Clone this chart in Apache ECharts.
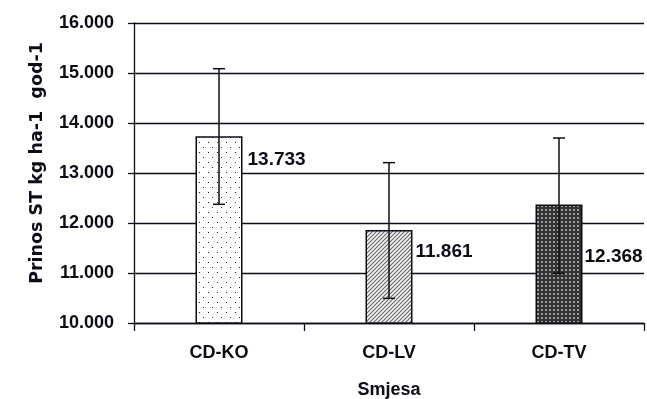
<!DOCTYPE html>
<html>
<head>
<meta charset="utf-8">
<script src="https://cdn.jsdelivr.net/npm/echarts@6/dist/echarts.min.js"></script>
<style>html,body{margin:0;padding:0;background:#fff;}#c{width:647px;height:399px;}</style>
</head>
<body>
<div id="c"></div>
<script>
// ---- data ----
var categories = ['CD-KO', 'CD-LV', 'CD-TV'];
var means = [13733, 11861, 12368];
var errUpper = [15086, 13207, 13700];
var errLower = [12374, 10493, 10993];
var yTicks = [10000, 11000, 12000, 13000, 14000, 15000, 16000];

// ---- patterns ----
function mk(w, h, draw) {
  var c = document.createElement('canvas');
  c.width = w; c.height = h;
  var g = c.getContext('2d');
  draw(g, w, h);
  return { image: c, repeat: 'repeat' };
}
var dots = mk(9, 10, function (g, w, h) {
  g.fillStyle = '#fff'; g.fillRect(0, 0, w, h);
  g.fillStyle = '#222';
  g.fillRect(1, 2, 1, 1); g.fillRect(5, 7, 1, 1);
});
var hatch = mk(4, 4, function (g, w, h) {
  g.fillStyle = '#f4f4f4'; g.fillRect(0, 0, w, h);
  g.strokeStyle = '#666'; g.lineWidth = 1.1;
  g.beginPath();
  g.moveTo(0, 4); g.lineTo(4, 0);
  g.moveTo(-1, 1); g.lineTo(1, -1);
  g.moveTo(3, 5); g.lineTo(5, 3);
  g.stroke();
});
var check = mk(4, 4, function (g, w, h) {
  g.fillStyle = '#333'; g.fillRect(0, 0, w, h);
  g.fillStyle = '#9a9a9a'; g.fillRect(1, 1, 2, 2);
});
var fills = [dots, hatch, check];
var labelPos = [[52, 23], [50, 22], [49, 52]];

var fmt = function (v) { return (v / 1000).toFixed(3); };
var ink = '#0c0c18';
var font = 'Liberation Sans, Arial, sans-serif';

var chart = echarts.init(document.getElementById('c'), null, { renderer: 'canvas' });
chart.setOption({
  animation: false,
  backgroundColor: '#fff',
  grid: { left: 134, right: 3, top: 23, bottom: 76, containLabel: false, outerBoundsMode: 'none' },
  xAxis: {
    type: 'category',
    data: categories,
    name: 'Smjesa',
    nameLocation: 'middle',
    nameGap: 58,
    nameTextStyle: { fontFamily: font, fontWeight: 'bold', fontSize: 18, color: ink },
    axisLine: { lineStyle: { color: ink, width: 1.3 } },
    axisTick: { show: true, length: 8, lineStyle: { color: ink, width: 1.3 } },
    axisLabel: { margin: 21, fontFamily: font, fontWeight: 'bold', fontSize: 18, color: ink }
  },
  yAxis: {
    type: 'value',
    min: 10000, max: 16000, interval: 1000,
    name: 'Prinos ST kg ha-1  god-1',
    nameLocation: 'middle',
    nameGap: 88,
    nameRotate: 90,
    nameTextStyle: { fontFamily: 'DejaVu Sans, sans-serif', fontWeight: 'bold', fontSize: 17.5, color: ink, padding: [0, 0, 0, 20] },
    axisLine: { show: true, lineStyle: { color: ink, width: 1.3 } },
    axisTick: { show: true, length: 6, lineStyle: { color: ink, width: 1.3 } },
    splitLine: { show: true, lineStyle: { color: ink, width: 1.3 } },
    axisLabel: { margin: 20, formatter: fmt, fontFamily: font, fontWeight: 'bold', fontSize: 18, color: ink }
  },
  series: [
    {
      type: 'bar',
      barWidth: 47,
      data: means.map(function (v, i) {
        return {
          value: v,
          itemStyle: { color: fills[i], borderColor: ink, borderWidth: 1.5 },
          label: { position: labelPos[i] }
        };
      }),
      label: {
        show: true,
        formatter: function (p) { return fmt(p.value); },
        align: 'left', verticalAlign: 'middle',
        fontFamily: font, fontWeight: 'bold', fontSize: 19, color: ink
      },
      z: 2
    },
    {
      type: 'custom',
      z: 5,
      data: categories.map(function (c, i) { return [i, errLower[i], errUpper[i]]; }),
      renderItem: function (params, api) {
        var i = api.value(0);
        var lo = api.coord([i, api.value(1)]);
        var hi = api.coord([i, api.value(2)]);
        var hw = 6;
        var st = { stroke: ink, lineWidth: 1.5 };
        return {
          type: 'group',
          children: [
            { type: 'line', shape: { x1: hi[0], y1: hi[1], x2: lo[0], y2: lo[1] }, style: st },
            { type: 'line', shape: { x1: hi[0] - hw, y1: hi[1], x2: hi[0] + hw, y2: hi[1] }, style: st },
            { type: 'line', shape: { x1: lo[0] - hw, y1: lo[1], x2: lo[0] + hw, y2: lo[1] }, style: st }
          ]
        };
      }
    }
  ]
});
</script>
</body>
</html>
